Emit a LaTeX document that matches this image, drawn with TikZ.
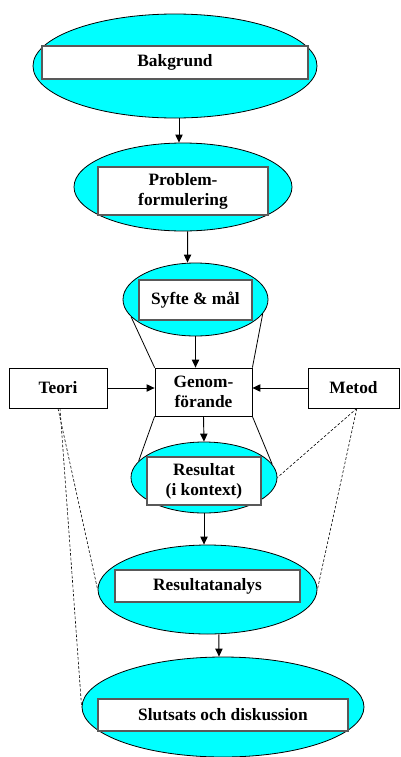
\documentclass[tikz,border=0pt]{standalone}
\usepackage{fontspec}
\setmainfont{Liberation Serif}
\usetikzlibrary{shapes.geometric,arrows.meta}
\definecolor{aqua}{RGB}{0,255,255}
\begin{document}
\begin{tikzpicture}[x=0.75pt,y=-0.75pt,
  stage/.style={ellipse,draw,fill=aqua,line width=0.6pt,inner sep=0pt},
  stagebox/.style={draw=black!65,fill=white,line width=0.9pt,inner sep=2pt,align=center,
    font=\fontsize{13}{15}\selectfont\bfseries},
  sidebox/.style={draw,fill=white,line width=0.6pt,inner sep=2pt,align=center,
    font=\fontsize{13}{15}\selectfont\bfseries},
  flow/.style={-{Triangle[length=6pt,width=5.5pt]},line width=0.7pt},
  link/.style={line width=0.6pt},
  hint/.style={dash pattern=on 2pt off 1.4pt,line width=0.45pt}]
\useasboundingbox (0,0) rectangle (400,757);

\node[stage,minimum width=213pt,minimum height=78pt] (bak) at (175,66) {};
\node[stagebox,minimum width=199.5pt,minimum height=24.75pt] (bakbox) at (175,62.5) {Bakgrund};

\node[stage,minimum width=163.5pt,minimum height=66pt] (prob) at (183,187) {};
\node[stagebox,minimum width=127.5pt,minimum height=36pt] (probbox) at (183,191) {Problem-\\formulering};

\node[stage,minimum width=108.75pt,minimum height=54.75pt] (syfte) at (195.5,299.5) {};
\node[stagebox,minimum width=84.75pt,minimum height=30pt] (syftebox) at (195.5,300) {Syfte \& mål};

\node[sidebox,minimum width=72.75pt,minimum height=36pt] (genom) at (203.5,392) {Genom-\\förande};
\node[sidebox,minimum width=73.5pt,minimum height=30pt] (teori) at (58,388) {Teori};
\node[sidebox,minimum width=68.25pt,minimum height=30pt] (metod) at (353.5,388) {Metod};

\node[stage,minimum width=109.5pt,minimum height=53.25pt] (res) at (204,477.5) {};
\node[stagebox,minimum width=85.5pt,minimum height=36pt] (resbox) at (204,481) {Resultat\\(i kontext)};

\node[stage,minimum width=164.25pt,minimum height=66.75pt] (ana) at (207.5,589.5) {};
\node[stagebox,minimum width=138.75pt,minimum height=24pt] (anabox) at (207.5,586) {Resultatanalys};

\node[stage,minimum width=211.5pt,minimum height=75pt] (slut) at (223,707) {};
\node[stagebox,minimum width=187.5pt,minimum height=24pt] (slutbox) at (223,715) {Slutsats och diskussion};

\draw[flow] ([xshift=3pt]bak.south) -- ([xshift=-3pt]prob.north);
\draw[flow] ([xshift=3.5pt]prob.south) -- ([xshift=-6pt]syfte.north);
\draw[flow] (syfte.south) -- (syfte.south |- genom.north);
\draw[flow] (genom.south) -- (res.north);
\draw[flow] (res.south) -- (res.south |- ana.north);
\draw[flow] ([xshift=8.5pt]ana.south) -- ([xshift=-3pt]slut.north);
\draw[flow] (teori.east) -- (genom.west |- teori.east);
\draw[flow] (metod.west) -- (genom.east |- metod.west);

\draw[link] (syfte.195) -- (genom.north west);
\draw[link] (syfte.-12) -- (genom.north east);
\draw[link] (genom.south west) -- (res.166);
\draw[link] (genom.south east) -- (res.11);

\draw[hint] (teori.south) -- (ana.west);
\draw[hint] ([xshift=1.5pt]teori.south) -- (slut.west);
\draw[hint] ([xshift=2.5pt]metod.south) -- (res.east);
\draw[hint] ([xshift=2.5pt]metod.south) -- (ana.east);
\end{tikzpicture}
\end{document}
